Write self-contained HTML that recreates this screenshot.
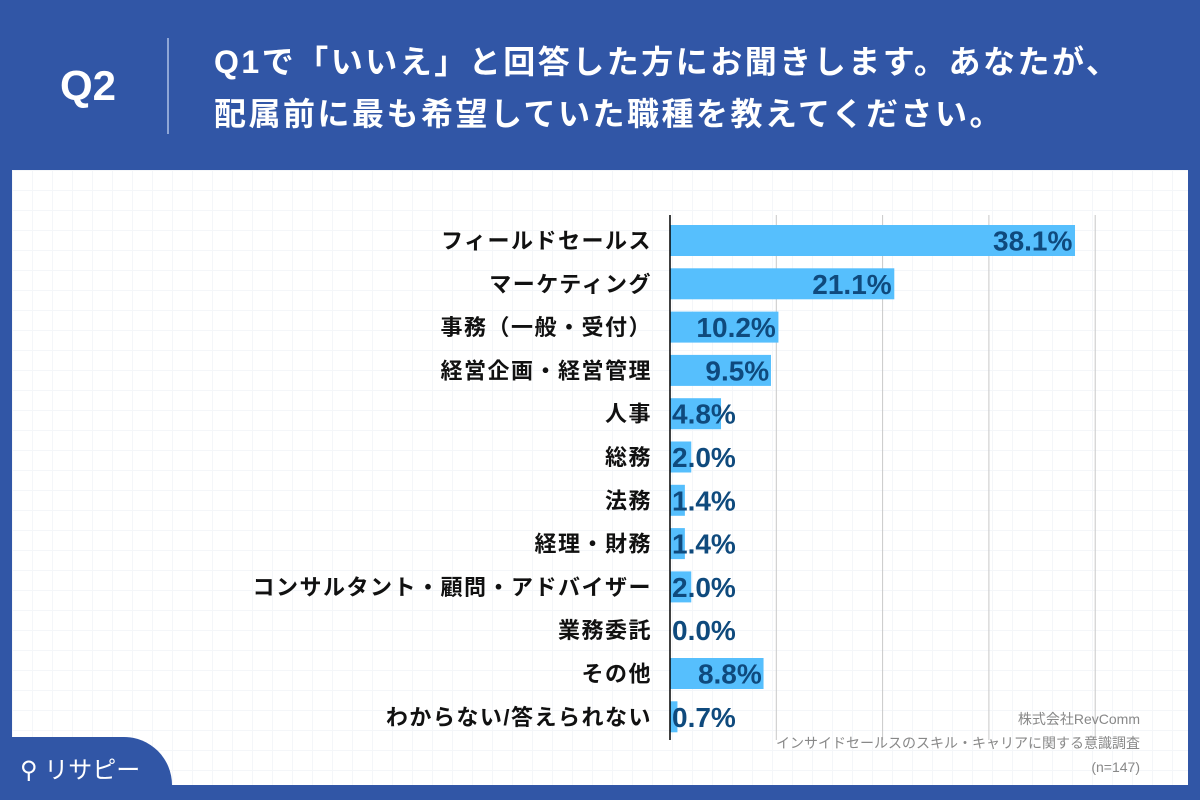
<!DOCTYPE html>
<html><head><meta charset="utf-8"><style>
body{margin:0;width:1200px;height:800px;background:#3156a6;position:relative;overflow:hidden;font-family:"Liberation Sans","Noto Sans CJK JP",sans-serif}
#panel{position:absolute;left:12px;top:170px;width:1176px;height:615px;background:#fff;
background-image:linear-gradient(#f4f6f9 1px,transparent 1px),linear-gradient(90deg,#f4f6f9 1px,transparent 1px);background-size:20px 20px}
.h{position:absolute;color:#fff;font-weight:bold}
</style></head><body>
<div class="h" style="left:60px;top:62px;font-size:42px">Q2</div>
<div style="position:absolute;left:167px;top:38px;width:2px;height:96px;background:#8fa6d6"></div>
<div class="h" style="left:214px;top:36px;font-size:32px;letter-spacing:2.5px;line-height:52px">Q1で「いいえ」と回答した方にお聞きします。あなたが、<br>配属前に最も希望していた職種を教えてください。</div>
<div id="panel"></div>
<svg id="chart" width="1200" height="800" style="position:absolute;left:0;top:0"></svg>
<div style="position:absolute;left:0;top:737px;width:172px;height:63px;background:#3156a6;border-top-right-radius:48px"></div>
<div style="position:absolute;left:20px;top:750px;color:#fff;font-size:24px">⚲ リサピー</div>
<script>
const categories=["フィールドセールス","マーケティング","事務（一般・受付）","経営企画・経営管理","人事","総務","法務","経理・財務","コンサルタント・顧問・アドバイザー","業務委託","その他","わからない/答えられない"];
const values=[38.1,21.1,10.2,9.5,4.8,2.0,1.4,1.4,2.0,0.0,8.8,0.7];
const ticks=[0,10,20,30,40];
const notes=["株式会社RevComm","インサイドセールスのスキル・キャリアに関する意識調査","(n=147)"];
const svg=document.getElementById('chart');const NS='http://www.w3.org/2000/svg';
const x0=670,pxPer=10.63,y0=225,step=43.3,bh=31;
const xs=v=>x0+v*pxPer, ys=i=>y0+i*step;
function mk(t,a){const e=document.createElementNS(NS,t);for(const k in a)e.setAttribute(k,a[k]);svg.appendChild(e);return e;}
ticks.slice(1).forEach(t=>{const l=mk('line',{x1:xs(t),x2:xs(t),y1:215,y2:740,stroke:'#c8c8c8','stroke-width':1});

});
categories.forEach((c,i)=>{
const y=ys(i),v=values[i];
const r=mk('rect',{x:x0,y:y,width:Math.max(0,xs(v)-x0),height:bh,fill:'#56bffd'});


const lb=mk('text',{x:652,y:y+bh/2+8,'text-anchor':'end','font-size':22,'letter-spacing':1.5,'font-weight':'bold',fill:'#111'});lb.textContent=c;


const s=v.toFixed(1)+'%';const w=s.length*16.4;
const tx=Math.max(x0+2,xs(v)-w);
const vl=mk('text',{x:tx,y:y+bh/2+10,'font-size':28,'font-weight':'bold',fill:'#0f4a7d'});vl.textContent=s;


});
const ax=mk('line',{x1:x0,x2:x0,y1:215,y2:740,stroke:'#000','stroke-width':1.5});


notes.forEach((n,i)=>{const t=mk('text',{x:1140,y:724+i*24,'text-anchor':'end','font-size':14,fill:'#888'});t.textContent=n;

});
</script>
</body></html>
